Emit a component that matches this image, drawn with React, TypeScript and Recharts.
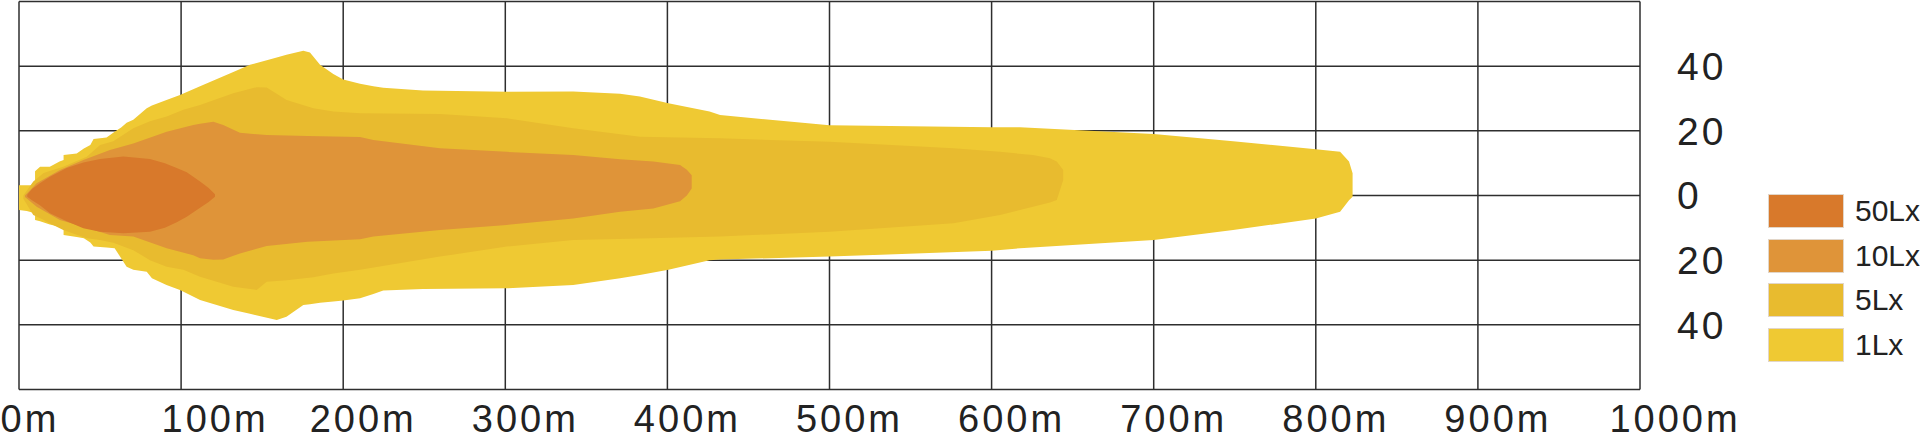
import React from 'react';
import { AreaChart, Area, XAxis, YAxis, CartesianGrid } from 'recharts';

// distance along the beam (m) and lateral spread (m) for each isolux contour
const distanceTicks = [0, 100, 200, 300, 400, 500, 600, 700, 800, 900, 1000];
const spreadTicks = [-60, -40, -20, 0, 20, 40, 60];

const lux1Dist = [0, 4.8, 9.9, 9.9, 13, 19, 25, 27.5, 27.5, 35.6, 40, 44, 46, 54, 59, 63, 66.4, 70.5, 78.8, 82, 91, 99.3, 111.7, 132.2, 142.5, 159, 165, 175.4, 179.5, 185.7, 193.9, 200, 210.4, 218.6, 224.7, 249.2, 300.9, 341.9, 370.8, 383, 400.6, 426, 432.5, 500, 600, 617.5, 700, 749, 800, 815, 820.5, 822.7];
const lux1Top = [3.2, 3.2, 3.2, 7.5, 8.9, 8.9, 10.5, 11, 12.5, 13, 14.5, 15.6, 17.5, 17.9, 19.7, 21, 22.5, 23.4, 27, 27.8, 29.5, 31.1, 33.8, 38.2, 40.4, 42.7, 43.5, 44.8, 44.2, 40.4, 37.6, 35.9, 34.6, 33.8, 33.3, 32.5, 32.1, 32.2, 31.5, 30.6, 28.5, 26, 24.9, 21.7, 21.1, 21.1, 19, 16.8, 14.3, 13.5, 10.5, 6.9];
const lux1Bottom = [-4.5, -4.8, -5.5, -7.6, -8, -9, -9.7, -9.8, -12.2, -12.8, -13.2, -14.5, -15.8, -16.1, -16.3, -19.4, -22, -23, -23.6, -25.6, -27.7, -29.2, -32.3, -35.4, -36.6, -38.5, -37.5, -33.9, -33.6, -33.2, -32.8, -32.5, -31.8, -30.5, -29.4, -28.9, -28.7, -27.7, -25.6, -24.6, -23, -20, -19.8, -18.9, -17.1, -16.3, -13.8, -10.7, -7.1, -5, -1.5, -0.4];

const lux5Dist = [2.7, 8.8, 15, 17, 27.3, 41.8, 50, 58.2, 70.5, 80.8, 91.1, 101.4, 111.7, 132.2, 146.6, 152.8, 165.1, 181.6, 193.9, 210.4, 259.7, 300.9, 341.9, 383.1, 432.5, 500, 576.4, 605.2, 625.5, 636, 640.2, 644.2];
const lux5Top = [0, 4.3, 6.9, 7.3, 8.9, 12, 15.6, 16.8, 20.8, 23, 24.4, 26.5, 28, 31.6, 33.5, 33.4, 29.5, 27, 26, 25.4, 25.2, 23.9, 20.8, 18.2, 17.7, 16.6, 14.6, 13.5, 12.5, 11.5, 10.5, 7.9];
const lux5Bottom = [-1, -6, -7.5, -8.1, -10.7, -13.2, -13.8, -14.6, -16.9, -20, -22, -23, -25.1, -28.2, -29.2, -26.7, -26.2, -25.3, -24.1, -23, -18.9, -15.8, -13.8, -13.3, -12.7, -11.2, -8.6, -6, -3.5, -2.2, -1.4, 4.8];

const lux10Dist = [3.7, 10.9, 25.3, 39.7, 56.1, 70.5, 91.1, 107.5, 111.7, 119.9, 126, 136.3, 152.8, 178, 210.4, 218.6, 259.7, 300.9, 341.9, 370.8, 391.3, 407.8, 412, 415];
const lux10Top = [0, 3.8, 7.9, 11, 14.1, 16.1, 19.7, 21.8, 22.2, 22.8, 21.8, 19.4, 18.7, 18.4, 18.1, 17.2, 14.6, 13.5, 12.5, 11.2, 10.5, 9.4, 8, 6.3];
const lux10Bottom = [-0.5, -3.5, -7.6, -9.7, -12.2, -12.7, -16.3, -18.5, -19.4, -19.9, -19.8, -17.9, -15.6, -14.3, -13.5, -12.7, -10.7, -9.1, -7.1, -5, -4, -1.8, 0, 2.2];

const lux50Dist = [5.1, 8, 12.9, 19.1, 29.4, 39.7, 50, 64.4, 80.8, 90, 97.3, 103.5, 111.7, 117, 120.9];
const lux50Top = [0.2, 2, 3.8, 5.8, 8.5, 10.2, 11.3, 12.1, 11.3, 10, 8.5, 7.2, 4.3, 2.3, 0.4];
const lux50Bottom = [-0.4, -1.5, -3, -5.5, -8, -10.1, -11.2, -11.7, -11.2, -10, -8.3, -6.6, -3.8, -2, -0.4];

const layers = [
  { key: 'lux1', name: '1Lx', dist: lux1Dist, top: lux1Top, bottom: lux1Bottom, color: '#EFC933' },
  { key: 'lux5', name: '5Lx', dist: lux5Dist, top: lux5Top, bottom: lux5Bottom, color: '#E8BB2F' },
  { key: 'lux10', name: '10Lx', dist: lux10Dist, top: lux10Top, bottom: lux10Bottom, color: '#DF9439' },
  { key: 'lux50', name: '50Lx', dist: lux50Dist, top: lux50Top, bottom: lux50Bottom, color: '#D8792B' },
];

const rows = layers.flatMap((l) =>
  l.dist.map((d, i) => ({ d, [l.key]: [l.bottom[i], l.top[i]] }))
);

const FONT = '"Liberation Sans", Arial, sans-serif';

// labels sit a little right of their grid lines in the original
const xLabelShift: Record<number, number> = { 0: 11, 100: 34, 1000: 35 };

const DistanceTick = (props: any) => {
  const { x, y, payload } = props;
  const shift = xLabelShift[payload.value] ?? 20;
  return (
    <text x={x + shift} y={y} dy="0.71em" textAnchor="middle" fontSize={38}
      letterSpacing={3} fill="#222" fontFamily={FONT}>
      {`${payload.value}m`}
    </text>
  );
};

const SpreadTick = (props: any) => {
  const { x, y, payload } = props;
  if (Math.abs(payload.value) === 60) return <g />;
  return (
    <text x={x} y={y} dy="0.355em" textAnchor="start" fontSize={39}
      letterSpacing={3} fill="#222" fontFamily={FONT}>
      {Math.abs(payload.value)}
    </text>
  );
};

const App = () => {
  const legendOrder = [...layers].reverse();
  return (
    <div style={{ position: 'relative', width: 1920, height: 443, background: '#fff' }}>
      <style>{'body{margin:0}'}</style>
      <AreaChart width={1920} height={443} data={rows}
        margin={{ top: 1.5, right: 180, bottom: 3.5, left: 19 }}>
        <CartesianGrid stroke="#2e2e2e" strokeWidth={1.5} />
        <XAxis dataKey="d" type="number" domain={[0, 1000]} ticks={distanceTicks}
          allowDataOverflow height={50} axisLine={false} tickLine={false}
          tickSize={0} tickMargin={16} tick={<DistanceTick />} interval={0} />
        <YAxis type="number" orientation="right" domain={[-60, 60]} ticks={spreadTicks}
          allowDataOverflow width={100} axisLine={false} tickLine={false}
          tickSize={0} tickMargin={37} tick={<SpreadTick />} interval={0} />
        {layers.map((l) => (
          <Area key={l.key} dataKey={l.key} name={l.name} type="linear" connectNulls
            fill={l.color} fillOpacity={1} stroke="none" dot={false} activeDot={false}
            isAnimationActive={false} />
        ))}
      </AreaChart>
      <div style={{ position: 'absolute', left: 1768, top: 194, fontFamily: FONT }}>
        {legendOrder.map((l) => (
          <div key={l.key} style={{ display: 'flex', alignItems: 'center', height: 33.5, marginBottom: 11.3 }}>
            <div style={{ width: 74, height: 32, background: l.color, border: '1px solid #e2d6c8' }} />
            <span style={{ marginLeft: 11, fontSize: 30, color: '#222', lineHeight: 1 }}>{l.name}</span>
          </div>
        ))}
      </div>
    </div>
  );
};

export default App;
